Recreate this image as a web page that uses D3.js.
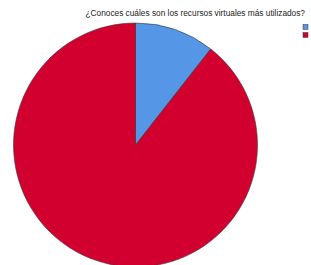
<!DOCTYPE html>
<html>
<head>
<meta charset="utf-8">
<script src="https://cdn.jsdelivr.net/npm/d3@7"></script>
<style>
  body { margin: 0; background: #fff; }
  svg { display: block; }
</style>
</head>
<body>
<div id="chart"></div>
<script>
// DATA
const categories = ["Sí", "No"];
const counts = [11, 93];
const sliceColors = ["#5596E6", "#D2002F"];
const title = "¿Conoces cuáles son los recursos virtuales más utilizados?";

const width = 311, height = 265;
const cx = 135.5, cy = 145, radius = 122;

const svg = d3.select("#chart").append("svg")
    .attr("width", width)
    .attr("height", height);

const color = d3.scaleOrdinal()
    .domain(categories)
    .range(sliceColors);

const pie = d3.pie()
    .sort(null)
    .value((d, i) => counts[i]);

const arc = d3.arc()
    .innerRadius(0)
    .outerRadius(radius);

// slices
svg.append("g")
    .attr("transform", `translate(${cx},${cy})`)
    .selectAll("path")
    .data(pie(categories))
    .enter().append("path")
    .attr("d", arc)
    .attr("fill", d => color(d.data))
    .attr("stroke", "#3a3a3a")
    .attr("stroke-width", 0.6);

// title
svg.append("text")
    .attr("x", 305)
    .attr("y", 15.5)
    .attr("text-anchor", "end")
    .attr("font-family", "Liberation Sans, Arial, sans-serif")
    .attr("font-size", 8.3)
    .attr("fill", "#222")
    .text(title);

// legend (swatches only, no labels)
svg.append("g")
    .selectAll("rect")
    .data(categories)
    .enter().append("rect")
    .attr("x", 303)
    .attr("y", (d, i) => 24.5 + i * 8)
    .attr("width", 5)
    .attr("height", 5)
    .attr("fill", d => color(d))
    .attr("stroke", "#3a3a3a")
    .attr("stroke-width", 0.5);
</script>
</body>
</html>
